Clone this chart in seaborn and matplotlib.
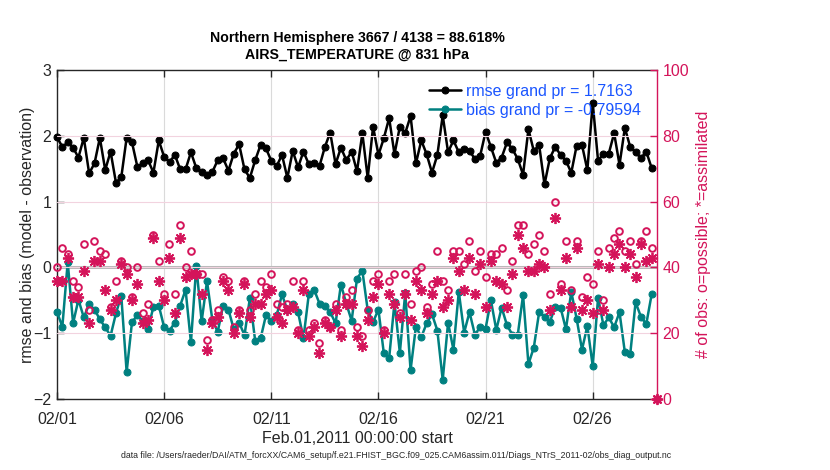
import numpy as np
import pandas as pd
import matplotlib
matplotlib.use("Agg")
import matplotlib.pyplot as plt
import matplotlib.dates as mdates
import seaborn as sns

# ---------------- data ----------------
start = "2011-02-01 00:00"
rmse = [1.98, 1.83, 1.90, 1.82, 1.67, 1.97, 1.43, 1.58, 1.97, 1.48, 1.76, 1.29, 1.37, 1.97, 1.90,
        1.53, 1.58, 1.63, 1.44, 1.93, 1.68, 1.60, 1.71, 1.49, 1.49, 1.75, 1.51, 1.45, 1.41,
        1.45, 1.63, 1.66, 1.47, 1.73, 1.87, 1.49, 1.36, 1.63, 1.86, 1.81, 1.62, 1.54, 1.71,
        1.36, 1.77, 1.52, 1.76, 1.57, 1.59, 1.54, 1.83, 2.05, 1.57, 1.82, 1.63, 1.76, 1.46,
        2.04, 1.36, 2.14, 1.71, 1.96, 2.27, 1.72, 2.14, 2.04, 2.30, 1.58, 1.93, 1.72, 1.44,
        1.71, 2.31, 1.75, 1.93, 1.75, 1.80, 1.77, 1.65, 1.70, 2.06, 1.83, 1.59, 1.67, 1.90,
        1.80, 1.65, 1.41, 2.10, 1.77, 1.86, 1.26, 1.66, 1.83, 1.71, 1.62, 1.44, 1.85, 1.86,
        1.48, 2.50, 1.62, 1.73, 1.73, 2.04, 1.56, 2.12, 1.83, 1.75, 1.66, 1.76, 1.51]
bias = [-0.68, -0.90, 0.08, -0.85, -0.49, -0.76, -0.56, -0.64, -0.79, -0.91, -1.04, -0.70, -0.43,
        -1.59, -0.83, -0.73, -0.81, -0.93, -0.60, -0.58, -0.91, -0.96, -0.84, -0.58, -0.34, -1.14,
        0.02, -0.82, -0.21,
        -0.80, -0.98, -0.58, -0.64, -0.94, -0.84, -1.03, -0.47, -1.12, -1.08, -0.73, -0.81, -0.73,
        -0.41, -0.65, -0.55, -0.68, -1.08, -0.41, -0.34, -0.55, -0.59, -0.68, -0.85, -0.26, -0.55,
        -0.81, -0.17,
        -0.05, -0.65, -0.83, -0.64, -1.30, -1.38, -0.53, -1.30, -0.39, -1.56, -0.90, -1.06, -0.85,
        -0.71, -0.96, -1.71, -0.84, -1.25, -0.37, -0.99, -0.68, -1.02, -0.91, -0.93, -0.50, -0.95,
        -0.61, -0.88,
        -1.02, -1.03, -0.42, -1.47, -1.22, -0.68, -0.75, -0.83, -0.60, -0.61, -0.94, -0.37, -0.78,
        -1.25, -0.89, -1.50, -0.46, -0.88, -0.76, -0.91, -0.68, -1.29, -1.32, -0.53, -0.75, -0.86,
        -0.41]
possible = [40, 46, 44, 36, 34, 47, 27, 48, 45, 44, 28, 36, 42, 40, 31, 40, 26, 29, 50, 42, 32, 47,
            32, 53, 40, 45, 38, 38, 18,
            24, 27, 37, 36, 22, 27, 36, 27, 32, 36, 34, 38, 29, 28, 29, 36, 21, 36, 21, 23, 17, 24,
            22, 29, 21, 31, 33, 22,
            19, 27, 36, 38, 21, 36, 38, 26, 38, 29, 39, 40, 28, 35, 45, 36, 33, 45, 45, 41, 48, 39,
            45, 37, 44, 44, 46, 33,
            42, 53, 53, 44, 47, 50, 45, 32, 60, 35, 48, 33, 48, 31, 37, 35, 45, 30, 46, 49, 51, 45,
            48, 41, 48, 51, 46, 0]
assimilated = [36, 36, 43, 31, 31, 39, 23, 42, 42, 33, 27, 30, 41, 38, 30, 35, 23, 24, 49, 36, 30,
               43, 26, 49, 37, 38, 38, 32, 15,
               23, 25, 36, 33, 20, 26, 35, 25, 29, 29, 32, 33, 25, 23, 27, 28, 20, 33, 19, 22, 14,
               23, 22, 27, 19, 29, 29, 19,
               16, 24, 31, 35, 20, 32, 29, 25, 32, 24, 36, 33, 26, 32, 36, 28, 30, 43, 39, 33, 43,
               32, 41, 28, 42, 36, 35, 28,
               38, 50, 46, 39, 39, 41, 40, 27, 55, 33, 43, 28, 46, 27, 30, 26, 41, 27, 40, 44, 47,
               40, 44, 37, 47, 42, 43, 0]
xtick_dates = ["2011-02-01", "2011-02-06", "2011-02-11", "2011-02-16", "2011-02-21", "2011-02-26"]
left_ticks = [-2, -1, 0, 1, 2, 3]
right_ticks = [0, 20, 40, 60, 80, 100]
rmse_label = "rmse grand pr = 1.7163"
bias_label = "bias grand pr = -0.79594"
title = "Northern Hemisphere 3667 / 4138 = 88.618%\nAIRS_TEMPERATURE @ 831 hPa"
xlabel = "Feb.01,2011 00:00:00 start"
ylabel_left = "rmse and bias (model - observation)"
ylabel_right = "# of obs: o=possible; *=assimilated"
datafile = ("data file: /Users/raeder/DAI/ATM_forcXX/CAM6_setup/f.e21.FHIST_BGC.f09_025."
            "CAM6assim.011/Diags_NTrS_2011-02/obs_diag_output.nc")

# ---------------- frames ----------------
t_lines = pd.date_range(start, periods=len(rmse), freq="6h")
t_obs = pd.date_range(start, periods=len(possible), freq="6h")
df_lines = pd.DataFrame({"time": t_lines, "rmse": rmse, "bias": bias})
df_obs = pd.DataFrame({"time": t_obs, "possible": possible, "assimilated": assimilated})

# ---------------- style ----------------
sns.set_theme(style="white")
plt.rcParams["font.family"] = ["Liberation Sans", "DejaVu Sans"]

CRIM = "#d4145a"
TEAL = "#008080"
BLUE = "#1a55ff"
INK = "#262626"

fig = plt.figure(figsize=(8.3, 4.7), dpi=100)
ax = fig.add_axes([57 / 830, 71 / 470, 600 / 830, 329 / 470])
ax2 = ax.twinx()

xmin = pd.Timestamp("2011-02-01")
xmax = pd.Timestamp("2011-03-01")

# grids / reference lines
for d in xtick_dates[1:]:
    ax.axvline(pd.Timestamp(d), color="#dadada", lw=0.8, zorder=0)
ax.axhline(0, color="#b8b8b8", lw=2.2, zorder=1)
for v in right_ticks[1:-1]:
    ax2.axhline(v, color="#f2d3df", lw=0.8, zorder=0)

# main series
sns.lineplot(data=df_lines, x="time", y="rmse", ax=ax, color="black", lw=1.8,
             marker="o", markersize=5, markeredgecolor="black", label=rmse_label,
             clip_on=False, zorder=3)
sns.lineplot(data=df_lines, x="time", y="bias", ax=ax, color=TEAL, lw=1.8,
             marker="o", markersize=5, markeredgecolor=TEAL, label=bias_label,
             clip_on=False, zorder=3)

# observation counts
sns.lineplot(data=df_obs, x="time", y="possible", ax=ax2, linestyle="none",
             marker="o", markersize=4.8, markerfacecolor="none", markeredgecolor=CRIM,
             markeredgewidth=1.4, color=CRIM, clip_on=False, legend=False)
sns.lineplot(data=df_obs, x="time", y="assimilated", ax=ax2, linestyle="none",
             marker=(8, 2, 0), markersize=8, markeredgecolor=CRIM,
             markeredgewidth=1.3, color=CRIM, clip_on=False, legend=False)

# axes limits / ticks
ax.set_xlim(xmin, xmax)
ax.set_ylim(-2, 3)
ax2.set_ylim(0, 100)
ax.set_xticks([pd.Timestamp(d) for d in xtick_dates])
ax.xaxis.set_major_formatter(mdates.DateFormatter("%m/%d"))
ax.set_yticks(left_ticks)
ax2.set_yticks(right_ticks)

ax.tick_params(axis="x", direction="in", length=5, width=1, top=True, bottom=True,
               labelsize=11.5, colors=INK, pad=9, labelcolor=INK)
ax.tick_params(axis="y", direction="in", length=5, width=1, left=True, right=False,
               labelsize=11.5, colors=INK, labelcolor=INK, pad=4)
ax2.tick_params(axis="y", direction="in", length=5, width=1, right=True,
                labelsize=11.5, colors=CRIM, labelcolor=CRIM, pad=4)

for s in ["left", "top", "bottom"]:
    ax.spines[s].set_color(INK)
    ax.spines[s].set_linewidth(1)
ax.spines["right"].set_visible(False)
for s in ["left", "top", "bottom"]:
    ax2.spines[s].set_visible(False)
ax2.spines["right"].set_color(CRIM)
ax2.spines["right"].set_linewidth(1)

ax.set_xlabel(xlabel, fontsize=11.5, color=INK, labelpad=3)
ax.set_ylabel(ylabel_left, fontsize=11.5, color=INK, labelpad=-1)
ax2.set_ylabel(ylabel_right, fontsize=11.5, color=CRIM, labelpad=5)
ax.set_title(title, fontsize=10.2, fontweight="bold", color="black", pad=8,
             linespacing=1.3)

leg = ax.legend(loc="upper right", bbox_to_anchor=(0.984, 0.978), frameon=False,
                fontsize=11.5, handlelength=2.0, handletextpad=0.3, labelspacing=0.25,
                borderaxespad=0.0)
for txt in leg.get_texts():
    txt.set_color(BLUE)
leg.set_zorder(10)

fig.text(0.477, 0.03, datafile, fontsize=6.3, ha="center", va="center", color=INK)

fig.savefig("out.png", dpi=100)
